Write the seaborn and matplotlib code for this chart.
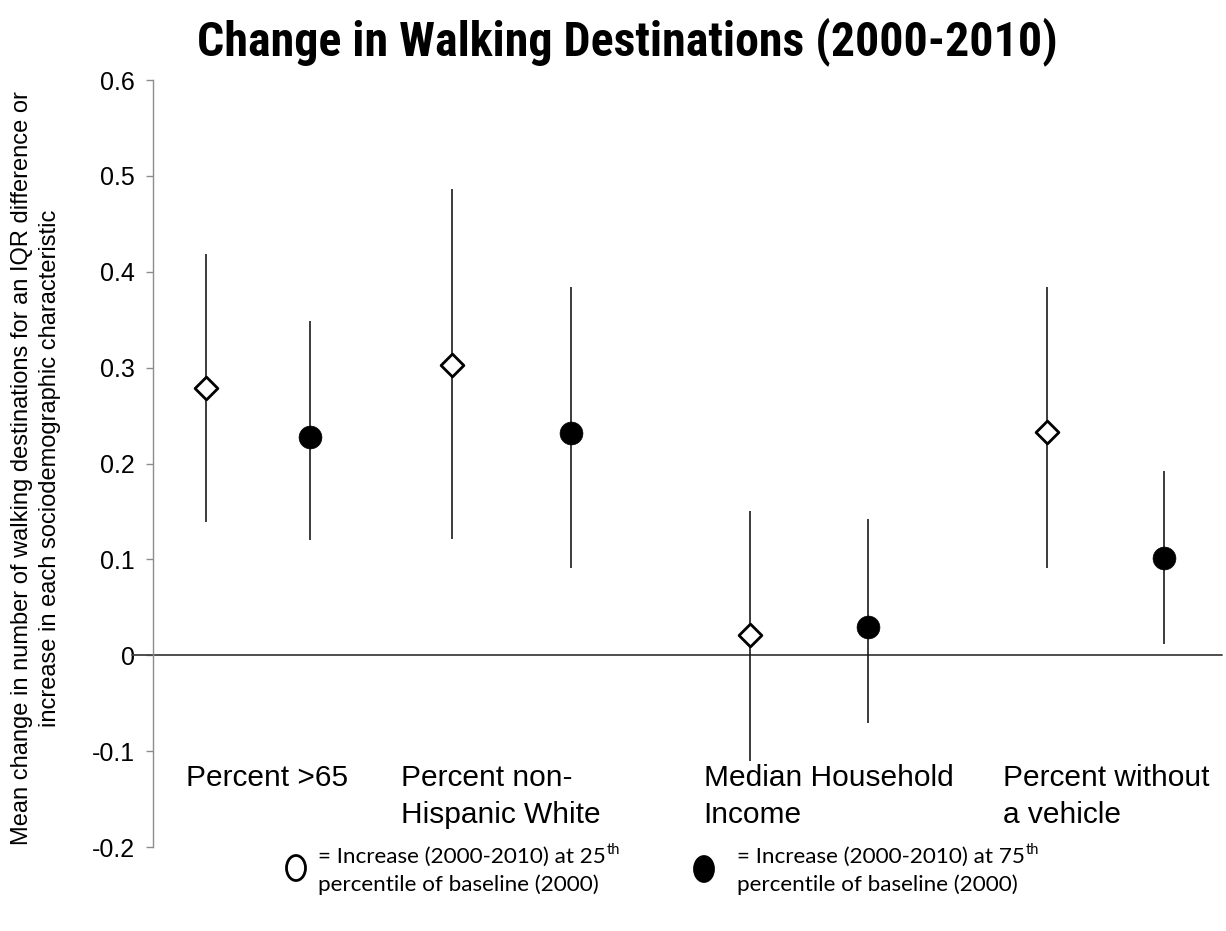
import numpy as np
import pandas as pd
import matplotlib
matplotlib.use("Agg")
import matplotlib.pyplot as plt
from matplotlib import font_manager
from matplotlib.patches import Ellipse
import seaborn as sns

# Sociodemographic characteristics shown along the x axis
categories = ["Percent >65", "Percent non-\nHispanic White",
              "Median Household\nIncome", "Percent without\na vehicle"]
label_x = [0.31, 2.32, 5.15, 7.95]

# Horizontal placement of each estimate (axis units 0-10)
x_25th = [0.496, 2.797, 5.585, 8.363]
x_75th = [1.469, 3.910, 6.688, 9.457]

# Increase at 25th percentile of baseline: estimate and interval
est_25th = [0.279, 0.303, 0.021, 0.233]
low_25th = [0.139, 0.121, -0.110, 0.091]
high_25th = [0.419, 0.486, 0.151, 0.384]

# Increase at 75th percentile of baseline: estimate and interval
est_75th = [0.228, 0.232, 0.030, 0.101]
low_75th = [0.120, 0.091, -0.071, 0.012]
high_75th = [0.349, 0.384, 0.142, 0.192]

y_ticks = [-0.2, -0.1, 0, 0.1, 0.2, 0.3, 0.4, 0.5, 0.6]
y_ticklabels = ["-0.2", "-0.1", "0", "0.1", "0.2", "0.3", "0.4", "0.5", "0.6"]

sns.set_theme(style="white")
plt.rcParams["font.family"] = ["Liberation Sans", "DejaVu Sans"]
plt.rcParams["text.color"] = "black"
plt.rcParams["axes.labelcolor"] = "black"
plt.rcParams["ytick.color"] = "black"


def has_font(name):
    try:
        font_manager.findfont(font_manager.FontProperties(family=name),
                              fallback_to_default=False)
        return True
    except Exception:
        return False


# Condensed bold face for the heading when one is available
title_family, title_size = "Liberation Sans", 26
for cand, size in (("Liberation Sans Narrow", 30), ("Roboto Condensed", 34.5),
                   ("Open Sans Condensed", 32)):
    if has_font(cand):
        title_family, title_size = cand, size
        break

df25 = pd.DataFrame({"x": x_25th, "est": est_25th, "lo": low_25th, "hi": high_25th})
df75 = pd.DataFrame({"x": x_75th, "est": est_75th, "lo": low_75th, "hi": high_75th})

fig = plt.figure(figsize=(12.26, 9.31), dpi=100)
ax = fig.add_axes([0.1248, 0.0902, 0.8719, 0.8238])

# Interval whiskers
for d in (df25, df75):
    ax.vlines(d["x"], d["lo"], d["hi"], color="#1a1a1a", lw=1.2, zorder=2)

# Point estimates
sns.scatterplot(data=df25, x="x", y="est", ax=ax, marker="D", s=135,
                facecolor="white", edgecolor="black", linewidth=2.0, zorder=3,
                legend=False)
sns.scatterplot(data=df75, x="x", y="est", ax=ax, marker="o", s=270,
                color="black", edgecolor="black", linewidth=0.5, zorder=3,
                legend=False)

# Zero reference line
ax.axhline(0, xmin=-0.02, xmax=1.0, color="#404040", lw=1.3, clip_on=False, zorder=1)

ax.set_xlim(0, 10)
ax.set_ylim(-0.2, 0.6)
ax.set_yticks(y_ticks)
ax.set_yticklabels(y_ticklabels, fontsize=18)
ax.set_xticks([])
ax.set_xlabel("")
ax.set_ylabel("")
for side in ("top", "right", "bottom"):
    ax.spines[side].set_visible(False)
ax.spines["left"].set_color("#8c8c8c")
ax.spines["left"].set_linewidth(1.0)
ax.tick_params(axis="y", which="major", direction="out", length=5, width=1,
               color="#8c8c8c", pad=8, left=True, labelcolor="black")

# Category names inside the plotting area
for lx, name in zip(label_x, categories):
    ax.text(lx, -0.113, name, ha="left", va="top", fontsize=21.5,
            linespacing=1.42, color="black")

fig.text(0.512, 1 - 42 / 931, "Change in Walking Destinations (2000-2010)",
         ha="center", va="center", fontsize=title_size, fontweight="bold",
         family=[title_family, "DejaVu Sans"], color="black")

fig.text(0.0295, 0.497,
         "Mean change in number of walking destinations for an IQR difference or\n"
         "increase in each sociodemographic characteristic",
         rotation=90, ha="center", va="center", fontsize=17, linespacing=1.35,
         multialignment="center", color="black")

# Legend drawn underneath the plot
fig_w, fig_h = 1226, 931
legend_items = [
    (296, 868, "white", 318, "= Increase (2000-2010) at 25"),
    (704, 869, "black", 737, "= Increase (2000-2010) at 75"),
]
renderer = fig.canvas.get_renderer()
for cx, cy, face, tx, line1 in legend_items:
    fig.add_artist(Ellipse((cx / fig_w, 1 - cy / fig_h), 19 / fig_w, 25 / fig_h,
                           transform=fig.transFigure, facecolor=face,
                           edgecolor="black", linewidth=2.0))
    t1 = fig.text(tx / fig_w, 1 - 857 / fig_h, line1, ha="left", va="center",
                  fontsize=16.2, family=["Lato", "DejaVu Sans"])
    fig.text(tx / fig_w, 1 - 885 / fig_h, "percentile of baseline (2000)",
             ha="left", va="center", fontsize=16.2, family=["Lato", "DejaVu Sans"])
    bb = t1.get_window_extent(renderer=renderer)
    fig.text((bb.x1 + 1) / fig_w, 1 - 850 / fig_h, "th", ha="left", va="center",
             fontsize=10.5, family=["Lato", "DejaVu Sans"])

fig.savefig("out.png", dpi=100, facecolor="white")
